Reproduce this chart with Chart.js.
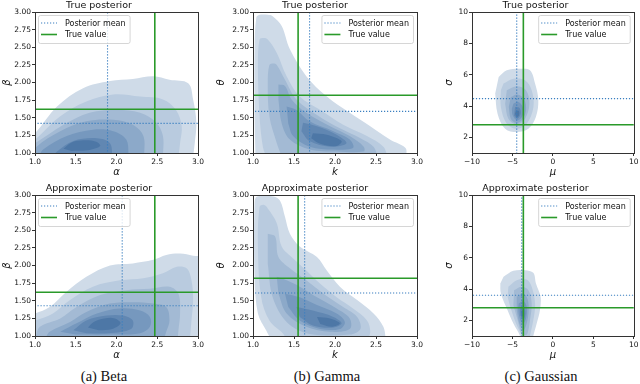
<!DOCTYPE html>
<html>
<head>
<meta charset="utf-8">
<script src="https://cdn.jsdelivr.net/npm/chart.js@4/dist/chart.umd.min.js"></script>
<style>
  body { margin: 0; width: 640px; height: 384px; background: #fff; position: relative; overflow: hidden; }
  canvas { position: absolute; }
  .cap { position: absolute; top: 368px; font-family: "Liberation Serif", serif; font-size: 14.5px; color: #111; transform: translateX(-50%); white-space: nowrap; }
</style>
</head>
<body>
<canvas id="c1"></canvas><canvas id="c2"></canvas><canvas id="c3"></canvas>
<canvas id="c4"></canvas><canvas id="c5"></canvas><canvas id="c6"></canvas>
<div class="cap" style="left:104px">(a) Beta</div>
<div class="cap" style="left:327px">(b) Gamma</div>
<div class="cap" style="left:541px">(c) Gaussian</div>
<script>
// --- data ---
const legendLabels = ["Posterior mean", "True value"];

const betaXTicks = [1.0, 1.5, 2.0, 2.5, 3.0];
const betaYTicks = [1.00, 1.25, 1.50, 1.75, 2.00, 2.25, 2.50, 2.75, 3.00];
const gaussXTicks = [-10, -5, 0, 5, 10];
const gaussYTicks = [2, 4, 6, 8, 10];

// [x, y] of mean / true value per panel
const betaTrueMean = [1.89, 1.42];
const betaApproxMean = [2.07, 1.43];
const betaTruth = [2.47, 1.62];
const gammaTrueMean = [1.69, 1.59];
const gammaApproxMean = [1.63, 1.61];
const gammaTruth = [1.55, 1.82];
const gaussTrueMean = [-4.47, 4.47];
const gaussApproxMean = [-3.85, 3.6];
const gaussTruth = [-3.65, 2.8];

// density contours, outermost level first
const betaTrueLevels = [
  [[0.95,0.95],[0.95,1.28],[1.0,1.28],[1.27,1.66],[1.59,1.92],[1.92,2.02],[2.2,2.05],[2.45,2.09],[2.65,2.04],[2.88,1.99],[2.94,1.76],[2.98,1.43],[2.96,1.14],[2.94,0.95]],
  [[0.95,0.95],[0.95,1.19],[1.0,1.19],[1.31,1.52],[1.63,1.73],[1.96,1.83],[2.29,1.80],[2.57,1.76],[2.73,1.61],[2.80,1.38],[2.78,1.14],[2.76,0.95]],
  [[0.95,0.95],[0.95,1.14],[1.0,1.14],[1.35,1.40],[1.67,1.57],[2.0,1.61],[2.29,1.57],[2.49,1.43],[2.57,1.24],[2.57,0.95]],
  [[0.98,0.95],[1.02,1.09],[1.31,1.31],[1.63,1.45],[1.96,1.47],[2.2,1.40],[2.33,1.24],[2.34,0.95]],
  [[1.05,0.95],[1.10,1.05],[1.39,1.24],[1.71,1.33],[1.96,1.31],[2.12,1.19],[2.15,0.95]],
  [[1.22,0.95],[1.27,1.02],[1.47,1.17],[1.76,1.21],[1.92,1.14],[1.95,0.95]],
  [[1.35,1.06],[1.45,1.15],[1.6,1.18],[1.75,1.16],[1.8,1.10],[1.65,1.04],[1.45,1.03]]
];
const betaApproxLevels = [
  [[0.95,0.95],[0.95,1.32],[1.0,1.32],[1.18,1.41],[1.39,1.63],[1.63,1.84],[1.92,2.0],[2.2,2.03],[2.45,2.08],[2.61,2.15],[2.78,2.17],[2.94,2.14],[3.05,2.10],[3.05,0.95]],
  [[0.95,0.95],[0.95,1.22],[1.0,1.22],[1.22,1.32],[1.43,1.51],[1.71,1.70],[2.04,1.79],[2.33,1.82],[2.57,1.89],[2.73,1.98],[2.86,1.96],[2.92,1.79],[2.94,1.51],[2.92,1.22],[2.9,0.95]],
  [[1.0,0.95],[1.06,1.13],[1.31,1.25],[1.51,1.41],[1.80,1.58],[2.12,1.65],[2.41,1.67],[2.65,1.70],[2.76,1.60],[2.78,1.32],[2.76,1.08],[2.75,0.95]],
  [[1.12,0.95],[1.18,1.06],[1.43,1.20],[1.63,1.34],[1.92,1.46],[2.20,1.48],[2.45,1.46],[2.61,1.41],[2.65,1.22],[2.61,1.06],[2.58,0.95]],
  [[1.31,1.06],[1.51,1.18],[1.76,1.32],[2.04,1.39],[2.29,1.36],[2.41,1.27],[2.41,1.13],[2.29,1.04],[1.9,1.02],[1.5,1.02]],
  [[1.47,1.08],[1.63,1.22],[1.88,1.29],[2.08,1.29],[2.20,1.22],[2.18,1.10],[1.90,1.04],[1.63,1.04]],
  [[1.65,1.12],[1.72,1.20],[1.85,1.25],[1.98,1.25],[2.05,1.18],[1.95,1.10],[1.78,1.08]]
];
const gammaTrueLevels = [
  [[1.03,0.95],[1.02,1.5],[1.02,2.5],[1.04,2.92],[1.08,2.96],[1.18,2.96],[1.24,2.94],[1.35,2.80],[1.45,2.47],[1.65,2.09],[1.90,1.80],[2.18,1.57],[2.43,1.38],[2.67,1.19],[2.86,1.07],[2.87,0.95]],
  [[1.16,0.95],[1.12,1.09],[1.08,1.52],[1.06,2.23],[1.08,2.61],[1.13,2.63],[1.18,2.61],[1.29,2.42],[1.41,2.09],[1.57,1.80],[1.82,1.61],[2.10,1.40],[2.39,1.24],[2.59,1.09],[2.64,0.95]],
  [[1.35,0.95],[1.29,1.14],[1.20,1.52],[1.18,1.99],[1.20,2.25],[1.25,2.27],[1.29,2.25],[1.39,2.04],[1.53,1.76],[1.78,1.54],[2.06,1.35],[2.31,1.21],[2.47,1.09],[2.52,0.95]],
  [[1.31,1.97],[1.39,1.95],[1.47,1.76],[1.65,1.57],[1.94,1.38],[2.18,1.24],[2.35,1.09],[2.35,1.02],[2.02,1.02],[1.69,1.05],[1.45,1.19],[1.35,1.42],[1.31,1.76]],
  [[1.41,1.66],[1.53,1.61],[1.69,1.45],[1.98,1.31],[2.18,1.19],[2.22,1.07],[1.98,1.05],[1.69,1.09],[1.49,1.24],[1.43,1.42]],
  [[1.61,1.43],[1.78,1.38],[2.02,1.26],[2.14,1.14],[1.94,1.09],[1.69,1.17],[1.59,1.31]],
  [[1.73,1.28],[1.90,1.26],[2.08,1.17],[2.02,1.10],[1.82,1.13],[1.71,1.21]]
];
const gammaApproxLevels = [
  [[1.22,0.95],[1.16,1.08],[1.06,1.32],[1.02,1.8],[1.02,2.9],[1.05,2.98],[1.25,2.98],[1.33,2.92],[1.39,2.69],[1.45,2.45],[1.57,2.27],[1.78,2.12],[1.90,1.93],[2.06,1.70],[2.27,1.51],[2.47,1.32],[2.59,1.13],[2.62,0.95]],
  [[1.40,0.95],[1.37,1.03],[1.20,1.22],[1.10,1.55],[1.06,2.27],[1.08,2.83],[1.13,2.86],[1.18,2.81],[1.29,2.60],[1.35,2.27],[1.49,2.10],[1.65,1.93],[1.82,1.74],[2.02,1.55],[2.22,1.39],[2.39,1.22],[2.43,1.06],[2.40,0.95]],
  [[1.18,2.45],[1.27,2.41],[1.31,2.12],[1.45,1.96],[1.65,1.79],[1.86,1.60],[2.10,1.41],[2.27,1.27],[2.31,1.10],[2.18,1.02],[1.69,1.03],[1.41,1.20],[1.24,1.55],[1.18,2.02]],
  [[1.29,1.84],[1.41,1.79],[1.57,1.70],[1.78,1.55],[2.02,1.39],[2.18,1.25],[2.18,1.10],[1.94,1.06],[1.65,1.13],[1.41,1.32],[1.31,1.60]],
  [[1.39,1.60],[1.57,1.55],[1.78,1.44],[2.02,1.32],[2.12,1.20],[2.06,1.10],[1.82,1.10],[1.57,1.22],[1.43,1.41]],
  [[1.53,1.41],[1.73,1.36],[1.98,1.27],[2.08,1.18],[1.98,1.12],[1.73,1.15],[1.57,1.27]],
  [[1.78,1.27],[1.94,1.25],[2.06,1.18],[1.96,1.13],[1.82,1.17]]
];
const gaussTrueLevels = [
  [[-6.7,5.85],[-5.7,6.28],[-4.06,6.38],[-2.83,6.28],[-2.2,5.43],[-1.8,4.36],[-2.1,3.3],[-3.03,2.55],[-4.47,2.34],[-5.9,2.55],[-6.84,3.51],[-7.13,4.79]],
  [[-6.1,5.43],[-4.88,5.74],[-3.44,5.64],[-2.62,5.0],[-2.4,3.94],[-3.24,2.87],[-4.47,2.55],[-5.7,2.87],[-6.43,3.94],[-6.43,5.0]],
  [[-5.7,5.0],[-4.47,5.26],[-3.32,5.0],[-2.9,4.15],[-3.44,3.19],[-4.47,2.83],[-5.5,3.19],[-5.9,4.15]],
  [[-5.2,4.57],[-4.4,4.74],[-3.57,4.47],[-3.32,3.72],[-3.85,3.09],[-4.55,2.91],[-5.2,3.19],[-5.45,3.94]],
  [[-4.88,4.15],[-4.26,4.26],[-3.73,3.94],[-3.73,3.40],[-4.39,3.09],[-4.96,3.40],[-5.08,3.83]],
  [[-4.67,3.94],[-4.14,3.89],[-3.97,3.51],[-4.39,3.19],[-4.8,3.40]],
  [[-4.55,3.72],[-4.2,3.68],[-4.2,3.4],[-4.47,3.3],[-4.67,3.51]]
];
const gaussApproxLevels = [
  [[-6.1,4.78],[-4.88,5.16],[-3.44,5.2],[-2.42,5.03],[-2.09,4.35],[-1.52,3.5],[-1.6,2.64],[-2.0,1.79],[-2.42,1.0],[-2.5,0.7],[-4.1,0.7],[-4.06,1.0],[-4.88,1.79],[-5.6,2.64],[-6.43,3.71],[-6.5,4.35]],
  [[-5.5,4.14],[-4.47,4.56],[-3.24,4.6],[-2.62,4.14],[-2.2,3.07],[-2.42,2.0],[-2.83,1.0],[-2.9,0.7],[-3.8,0.7],[-3.85,1.0],[-4.55,1.79],[-5.2,2.75],[-5.6,3.5]],
  [[-4.8,3.92],[-3.85,4.14],[-3.03,3.92],[-2.62,3.07],[-2.83,2.0],[-3.15,1.15],[-3.5,1.05],[-3.85,1.1],[-4.35,2.0],[-4.88,2.96]],
  [[-4.47,3.5],[-3.73,3.71],[-3.15,3.39],[-2.99,2.64],[-3.24,1.79],[-3.65,1.36],[-4.14,1.79],[-4.47,2.64]],
  [[-4.22,3.07],[-3.65,3.24],[-3.24,2.86],[-3.32,2.11],[-3.73,1.79],[-4.14,2.22],[-4.3,2.75]],
  [[-4.06,2.75],[-3.61,2.86],[-3.4,2.43],[-3.65,2.05],[-4.02,2.32]],
  [[-3.94,2.6],[-3.65,2.64],[-3.57,2.32],[-3.85,2.22]]
];

// --- styling ---
const FONT = '"DejaVu Sans", sans-serif';
const SHADES = ["#cfdbe8", "#b9cbdf", "#a3bad4", "#8ca9c9", "#7698be", "#6187b2", "#4d77a6"];
const MEAN_COLOR = "#3a7fc0";
const TRUE_COLOR = "#2a9a2a";

function contourSets(levels) {
  return levels.map((poly, k) => ({
    data: poly.map(([x, y]) => ({ x, y })),
    backgroundColor: SHADES[k],
    borderColor: "transparent",
    borderWidth: 0,
    pointRadius: 0,
    fill: "shape",
    tension: 0.35,
    order: 100 - k,
  }));
}

function crossLines(pt, xr, yr, color, dash, width, order) {
  const base = { borderColor: color, borderWidth: width, borderDash: dash, pointRadius: 0, fill: false, tension: 0, order };
  return [
    { ...base, data: [{ x: pt[0], y: yr[0] - 1 }, { x: pt[0], y: yr[1] + 1 }] },
    { ...base, data: [{ x: xr[0] - 1, y: pt[1] }, { x: xr[1] + 1, y: pt[1] }] },
  ];
}

function fmtTick(digits) {
  return v => {
    if (digits === 0) return v < 0 ? "\u2212" + Math.abs(v) : String(v);
    return Number(v).toFixed(digits);
  };
}

const framePlugin = {
  id: "frame",
  afterDatasetsDraw(chart, args, opts) {
    const { ctx, chartArea: a } = chart;
    ctx.save();
    ctx.strokeStyle = "#333";
    ctx.lineWidth = 1;
    ctx.strokeRect(Math.round(a.left) + 0.5, Math.round(a.top) + 0.5, Math.round(a.right - a.left), Math.round(a.bottom - a.top));

    // legend box inside the axes
    ctx.font = "8px " + FONT;
    const tw = Math.max(...legendLabels.map(t => ctx.measureText(t).width));
    const w = 3 + 16 + 8 + tw + 4;
    const h = 28;
    const x0 = opts.side === "left" ? a.left + 3 : a.right - 4 - w;
    const y0 = a.top + 3;
    ctx.beginPath();
    if (ctx.roundRect) ctx.roundRect(x0 + 0.5, y0 + 0.5, w, h, 2); else ctx.rect(x0 + 0.5, y0 + 0.5, w, h);
    ctx.fillStyle = "rgba(255,255,255,0.8)";
    ctx.fill();
    ctx.strokeStyle = "#cccccc";
    ctx.lineWidth = 0.8;
    ctx.stroke();

    const rows = [y0 + 8, y0 + 19.5];
    ctx.lineWidth = 1.1;
    ctx.strokeStyle = MEAN_COLOR;
    ctx.setLineDash([1.2, 1.8]);
    ctx.beginPath(); ctx.moveTo(x0 + 3, rows[0]); ctx.lineTo(x0 + 19, rows[0]); ctx.stroke();
    ctx.setLineDash([]);
    ctx.lineWidth = 1.6;
    ctx.strokeStyle = TRUE_COLOR;
    ctx.beginPath(); ctx.moveTo(x0 + 3, rows[1]); ctx.lineTo(x0 + 19, rows[1]); ctx.stroke();

    ctx.fillStyle = "#111";
    ctx.textBaseline = "middle";
    ctx.textAlign = "left";
    legendLabels.forEach((t, i) => ctx.fillText(t, x0 + 27, rows[i] + 0.5));
    ctx.restore();
  },
};

const panels = [
  { id: "c1", left: 0, top: 0, yw: 35, pr: 12, ytp: 1, title: "True posterior", xl: "\u03b1", yl: "\u03b2",
    xr: [1, 3], yr: [1, 3], xt: betaXTicks, yt: betaYTicks, xd: 1, yd: 2, levels: betaTrueLevels, mean: betaTrueMean, truth: betaTruth, side: "left" },
  { id: "c2", left: 213, top: 0, yw: 40, pr: 12, ytp: 2, title: "True posterior", xl: "k", yl: "\u03b8",
    xr: [1, 3], yr: [1, 3], xt: betaXTicks, yt: betaYTicks, xd: 1, yd: 2, levels: gammaTrueLevels, mean: gammaTrueMean, truth: gammaTruth, side: "right" },
  { id: "c3", left: 437, top: 0, yw: 35, pr: 6, ytp: 6, title: "True posterior", xl: "\u03bc", yl: "\u03c3",
    xr: [-10, 10], yr: [1, 10], xt: gaussXTicks, yt: gaussYTicks, xd: 0, yd: 0, levels: gaussTrueLevels, mean: gaussTrueMean, truth: gaussTruth, side: "right" },
  { id: "c4", left: 0, top: 183, yw: 35, pr: 12, ytp: 1, title: "Approximate posterior", xl: "\u03b1", yl: "\u03b2",
    xr: [1, 3], yr: [1, 3], xt: betaXTicks, yt: betaYTicks, xd: 1, yd: 2, levels: betaApproxLevels, mean: betaApproxMean, truth: betaTruth, side: "left" },
  { id: "c5", left: 213, top: 183, yw: 40, pr: 12, ytp: 2, title: "Approximate posterior", xl: "k", yl: "\u03b8",
    xr: [1, 3], yr: [1, 3], xt: betaXTicks, yt: betaYTicks, xd: 1, yd: 2, levels: gammaApproxLevels, mean: gammaApproxMean, truth: gammaTruth, side: "right" },
  { id: "c6", left: 437, top: 183, yw: 35, pr: 6, ytp: 6, title: "Approximate posterior", xl: "\u03bc", yl: "\u03c3",
    xr: [-10, 10], yr: [1, 10], xt: gaussXTicks, yt: gaussYTicks, xd: 0, yd: 0, levels: gaussApproxLevels, mean: gaussApproxMean, truth: gaussTruth, side: "right" },
];

const tickFont = { family: FONT, size: 7.5 };
const labelFont = { family: FONT, size: 10, style: "italic", lineHeight: 1.2 };

panels.forEach(p => {
  const cv = document.getElementById(p.id);
  const width = p.yw + (p.xr[0] === 1 ? (p.yw === 40 ? 164 : 163) : 162) + p.pr;
  cv.width = width;
  cv.height = 182;
  cv.style.left = p.left + "px";
  cv.style.top = p.top + "px";

  const datasets = [
    ...contourSets(p.levels),
    ...crossLines(p.mean, p.xr, p.yr, MEAN_COLOR, [1.2, 1.8], 1.1, 1),
    ...crossLines(p.truth, p.xr, p.yr, TRUE_COLOR, [], 1.6, 0),
  ];

  new Chart(cv, {
    type: "line",
    data: { datasets },
    plugins: [framePlugin],
    options: {
      responsive: false,
      animation: false,
      layout: { padding: { left: 0, right: p.pr, top: 0, bottom: 0 } },
      plugins: {
        legend: { display: false },
        tooltip: { enabled: false },
        title: { display: true, text: p.title, color: "#111", font: { family: FONT, size: 9.5, weight: "normal", lineHeight: 1.2 }, padding: { top: 0, bottom: 0.6 } },
        frame: { side: p.side },
      },
      scales: {
        x: {
          type: "linear", min: p.xr[0], max: p.xr[1],
          afterBuildTicks: s => { s.ticks = p.xt.map(v => ({ value: v })); },
          afterFit: s => { s.height = 29; },
          ticks: { font: tickFont, color: "#111", padding: 1.5, maxRotation: 0, autoSkip: false, callback: fmtTick(p.xd) },
          grid: { drawOnChartArea: false, tickLength: 3, color: "#333" },
          border: { display: false },
          title: { display: true, text: p.xl, color: "#111", font: labelFont, padding: { top: 0, bottom: 4 } },
        },
        y: {
          type: "linear", min: p.yr[0], max: p.yr[1],
          afterBuildTicks: s => { s.ticks = p.yt.map(v => ({ value: v })); },
          afterFit: s => { s.width = p.yw; },
          ticks: { font: tickFont, color: "#111", padding: 1, autoSkip: false, callback: fmtTick(p.yd) },
          grid: { drawOnChartArea: false, tickLength: 3, color: "#333" },
          border: { display: false },
          title: { display: true, text: p.yl, color: "#111", font: labelFont, padding: { top: p.ytp, bottom: 0 } },
        },
      },
    },
  });
});
</script>
</body>
</html>
